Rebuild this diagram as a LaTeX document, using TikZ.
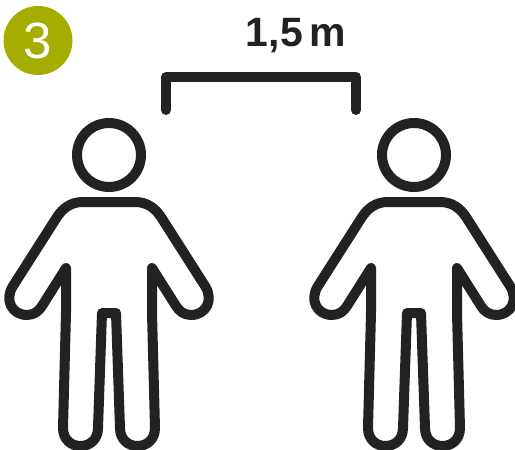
\documentclass[tikz,border=0pt]{standalone}
\usepackage{fontspec}
\setmainfont{Liberation Sans}
\definecolor{badgegreen}{HTML}{A5AD00}
\definecolor{iconblack}{HTML}{222222}
\tikzset{
  outline/.style={draw=iconblack,line width=10pt,line join=round,line cap=round},
  person/.pic={
    \draw[outline] (0,155) circle (32);
    \foreach \s in {-1,1} {
      \draw[outline,xscale=\s] (0,202) -- (-26,202) .. controls (-38,202) and (-46,208) .. (-52,217) -- (-96,286) .. controls (-105,300) and (-97,315) .. (-82,315) .. controls (-75,315) and (-70,311) .. (-67,306) -- (-43,268) -- (-43,313) -- (-46,428) .. controls (-46,452) and (-11,452) .. (-11,428) -- (-7,313) -- (0,313);
    }
  }
}
\begin{document}
\begin{tikzpicture}[x=1pt,y=-1pt]
\path[use as bounding box] (0,0) rectangle (515,450);
\node[circle,fill=badgegreen,minimum size=69pt,inner sep=0pt,text=white,font=\fontsize{51}{51}\selectfont] (badge) at (38,40.5) {3};
\node[inner sep=0pt,text=iconblack,font=\bfseries\fontsize{41}{41}\selectfont] (dist) at (296,35.5) {1,5\,m};
\draw[outline] (166,110) -- (166,77) -- (356,77) -- (356,110);
\pic at (109,0) {person};
\pic at (414,0) {person};
\end{tikzpicture}
\end{document}
